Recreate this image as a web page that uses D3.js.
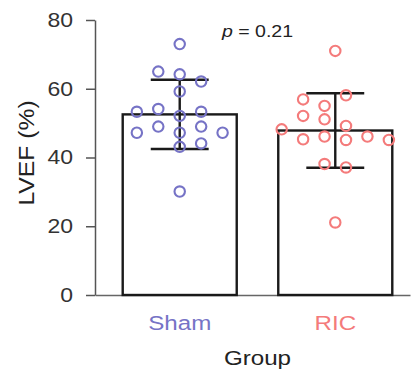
<!DOCTYPE html>
<html>
<head>
<meta charset="utf-8">
<script src="https://cdn.jsdelivr.net/npm/d3@7"></script>
<style>
  body { margin: 0; background: #fff; }
  text { font-family: "Liberation Sans", Arial, Helvetica, sans-serif; }
</style>
</head>
<body>
<svg id="chart" width="412" height="369"></svg>
<script>
// LVEF (%) per animal, listed in acquisition order
const groups = ["Sham", "RIC"];
const groupColors = ["#7673c6", "#f47b7b"];
const shamLVEF = [73.0, 64.2, 65.0, 62.1, 59.2, 52.1, 54.1, 53.3, 53.3, 47.2, 49.0, 49.0, 47.2, 47.2, 43.1, 44.1, 30.1];
const ricLVEF = [71.0, 21.1, 55.0, 58.1, 56.9, 49.2, 51.1, 37.1, 52.1, 38.1, 45.1, 46.1, 46.1, 45.3, 45.1, 48.2];
const yTicks = [0, 20, 40, 60, 80];
const pValue = "0.21";

const series = [shamLVEF, ricLVEF];
const textStretch = 1.15;

const svg = d3.select("#chart");

const y = d3.scaleLinear().domain([0, 80]).range([295, 20]);
const x = d3.scaleBand()
  .domain(groups)
  .range([95, 410])
  .paddingInner(0.267)
  .paddingOuter(0.146)
  .align(0.61);
const bw = x.bandwidth();
const color = d3.scaleOrdinal().domain(groups).range(groupColors);

// Dot layout: points sit on a horizontal grid of slots; a point moves out
// of the centre slot when it would overlap a point already in that slot.
function swarmSlots(values, minSep) {
  const ys = values.map(y);
  const lone = ys.map((v, i) => ys.every((o, j) => j === i || Math.abs(o - v) >= minSep));
  function layout(half) {
    const placed = [];
    let left = 0, right = 0;
    return ys.map((v, i) => {
      if (lone[i]) return 0;
      const free = s => placed.every(p => p.slot !== s || Math.abs(p.y - v) >= minSep);
      let slot = null;
      for (let k = 0; slot === null; k++) {
        const m = half ? k + 0.5 : k;
        if (m === 0) { if (free(0)) slot = 0; continue; }
        const l = free(-m), r = free(m);
        if (l && r) slot = right < left ? m : -m;
        else if (l) slot = -m;
        else if (r) slot = m;
      }
      if (slot < 0) left++; else if (slot > 0) right++;
      placed.push({ y: v, slot });
      return slot;
    });
  }
  const a = layout(false), b = layout(true);
  const ext = s => d3.max(s, Math.abs);
  return ext(b) < ext(a) ? b : a;
}

const stats = groups.map((g, i) => {
  const vals = series[i];
  return { group: g, mean: d3.mean(vals), sd: d3.deviation(vals), vals, slots: swarmSlots(vals, 12) };
});

// Axes
const yAxis = d3.axisLeft(y).tickValues(yTicks).tickSize(9).tickSizeOuter(0).tickPadding(13);
const gy = svg.append("g").attr("transform", "translate(95,0)").call(yAxis);
gy.select(".domain").attr("stroke", "#555").attr("stroke-width", 1.5);
gy.selectAll(".tick line").attr("stroke", "#555").attr("stroke-width", 1.5);
gy.selectAll(".tick text")
  .attr("font-size", 20)
  .attr("fill", "#333")
  .attr("x", -22 / textStretch)
  .attr("transform", `scale(${textStretch},1)`);

const xAxis = d3.axisBottom(x).tickSize(0).tickSizeOuter(0).tickPadding(20);
const gx = svg.append("g").attr("transform", `translate(0,${y(0)})`).call(xAxis);
gx.select(".domain").attr("stroke", "#666").attr("stroke-width", 1.3);
gx.selectAll(".tick text")
  .attr("font-size", 21)
  .attr("fill", d => color(d))
  .attr("transform", `scale(${textStretch},1)`);

// Bars (group means)
svg.append("g").selectAll("rect").data(stats).join("rect")
  .attr("x", d => x(d.group))
  .attr("y", d => y(d.mean))
  .attr("width", bw)
  .attr("height", d => y(0) - y(d.mean))
  .attr("fill", "#fff")
  .attr("stroke", "#1a1a1a")
  .attr("stroke-width", 2.4);

// Error bars (mean ± SD)
const cap = bw * 0.254;
const eb = svg.append("g").attr("stroke", "#1a1a1a").attr("stroke-width", 2.4);
stats.forEach(d => {
  const cx = x(d.group) + bw / 2;
  eb.append("line").attr("x1", cx).attr("x2", cx).attr("y1", y(d.mean + d.sd)).attr("y2", y(d.mean - d.sd));
  eb.append("line").attr("x1", cx - cap).attr("x2", cx + cap).attr("y1", y(d.mean + d.sd)).attr("y2", y(d.mean + d.sd));
  eb.append("line").attr("x1", cx - cap).attr("x2", cx + cap).attr("y1", y(d.mean - d.sd)).attr("y2", y(d.mean - d.sd));
});

// Individual animals
const gap = bw * 0.188;
stats.forEach(d => {
  const cx = x(d.group) + bw / 2;
  svg.append("g").selectAll("circle").data(d.vals).join("circle")
    .attr("cx", (v, i) => cx + d.slots[i] * gap)
    .attr("cy", v => y(v))
    .attr("r", 5.2)
    .attr("fill", "none")
    .attr("stroke", color(d.group))
    .attr("stroke-width", 2.1);
});

// Statistical annotation
const midX = x(groups[0]) + (x(groups[1]) + bw - x(groups[0])) / 2;
const pText = svg.append("text")
  .attr("transform", `translate(${midX},37) scale(${textStretch},1)`)
  .attr("text-anchor", "middle")
  .attr("font-size", 17)
  .attr("fill", "#222");
pText.append("tspan").attr("font-style", "italic").text("p");
pText.append("tspan").text(" = " + pValue);

// Axis titles
svg.append("text")
  .attr("transform", `translate(${midX},365) scale(${textStretch},1)`)
  .attr("text-anchor", "middle")
  .attr("font-size", 21)
  .attr("fill", "#222")
  .text("Group");

svg.append("text")
  .attr("transform", `translate(34,153) rotate(-90) scale(${textStretch},1)`)
  .attr("text-anchor", "middle")
  .attr("font-size", 21.5)
  .attr("fill", "#222")
  .text("LVEF (%)");
</script>
</body>
</html>
